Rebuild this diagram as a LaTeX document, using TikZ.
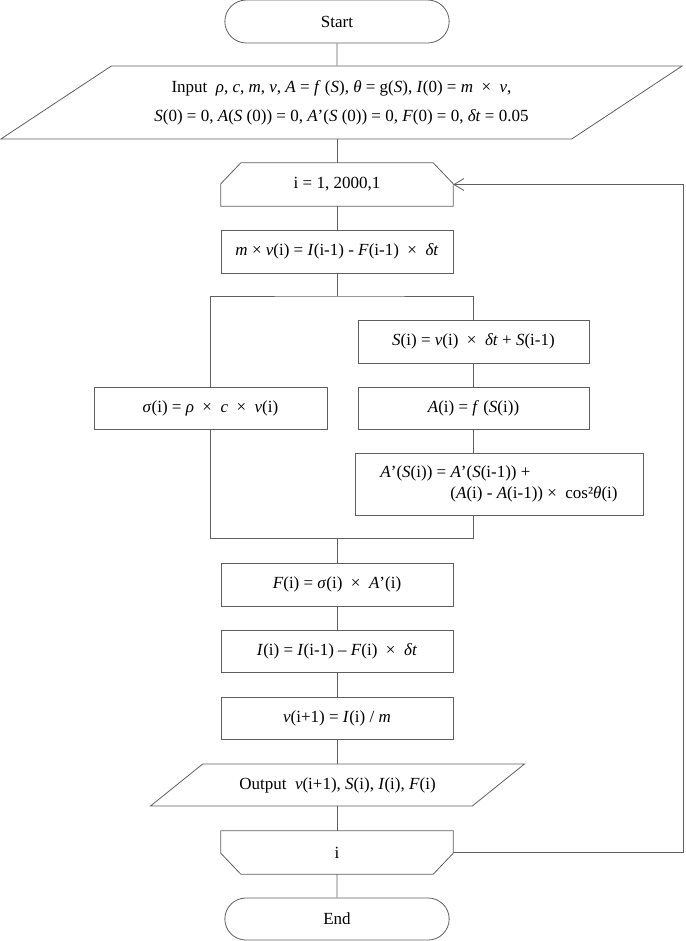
\documentclass[tikz,border=0pt]{standalone}
\usepackage{fontspec}
\setmainfont{Liberation Serif}
\usepackage{tikz}
\usetikzlibrary{shapes.geometric,shapes.misc,arrows.meta}
\definecolor{linegray}{RGB}{95,95,95}
\newcommand{\vi}[1]{\textit{#1}}
\tikzstyle{terminal} = [draw=linegray, line width=0.8pt, rounded rectangle,
    minimum width=231pt, minimum height=43pt]
\tikzstyle{procbox} = [draw=linegray, line width=0.8pt, rectangle,
    minimum width=232pt, minimum height=43pt, inner sep=2pt]
\tikzstyle{iobox} = [draw=linegray, line width=0.8pt, trapezium,
    trapezium left angle=29.3, trapezium right angle=150.7, trapezium stretches=true]
\tikzstyle{loopbox} = [rectangle, minimum width=232pt, minimum height=43pt]
\tikzstyle{flow} = [draw=linegray, line width=0.8pt]
\begin{document}
\begin{tikzpicture}[x=1pt, y=-1pt, every node/.style={font=\fontsize{17}{21}\selectfont}]
\useasboundingbox (0,0) rectangle (685,941);
\node[terminal] (start) at (337,21.5) {Start};
\node[iobox, minimum width=683pt, minimum height=73pt, align=center] (input) at (341.5,102.5)
    {Input\ \ \vi{ρ}, \vi{c}, \vi{m}, \vi{v}, \vi{A} = \vi{f} (\vi{S}), \vi{θ} = g(\vi{S}), \vi{I}(0) = \vi{m}\ \ ×\ \ \vi{v},\\[8pt]
     \vi{S}(0) = 0, \vi{A}(\vi{S} (0)) = 0, \vi{A}’(\vi{S} (0)) = 0, \vi{F}(0) = 0, \vi{δt} = 0.05};
\node[loopbox] (loop) at (337,184.5) {i = 1, 2000,1};
\draw[flow] (loop.south west) -- ([yshift=-21pt]loop.north west) -- ([xshift=20pt]loop.north west)
    -- ([xshift=-20pt]loop.north east) -- ([yshift=-21pt]loop.north east) -- (loop.south east) -- cycle;
\node[procbox] (mv) at (337,251.5) {\vi{m} × \vi{v}(i) = \vi{I}(i-1) - \vi{F}(i-1)\ \ ×\ \ \vi{δt}};
\node[procbox, minimum width=233pt, minimum height=42pt] (sigma) at (210.5,408)
    {\vi{σ}(i) = \vi{ρ}\ \ ×\ \ \vi{c}\ \ ×\ \ \vi{v}(i)};
\node[procbox, minimum width=231pt] (S) at (473.5,341.5)
    {\vi{S}(i) = \vi{v}(i)\ \ ×\ \ \vi{δt} + \vi{S}(i-1)};
\node[procbox, minimum width=231pt, minimum height=42pt] (A) at (473.5,408)
    {\vi{A}(i) = \vi{f} (\vi{S}(i))};
\node[procbox, minimum width=288pt, minimum height=62pt, align=left] (Ad) at (499,484)
    {\vi{A}’(\vi{S}(i)) = \vi{A}’(\vi{S}(i-1)) +\\
     \hspace*{70pt}(\vi{A}(i) - \vi{A}(i-1)) ×\ \ cos²\vi{θ}(i)};
\node[procbox] (F) at (337,584.5) {\vi{F}(i) = \vi{σ}(i)\ \ ×\ \ \vi{A}’(i)};
\node[procbox, minimum height=42pt] (I) at (337,651.5) {\vi{I}(i) = \vi{I}(i-1) – \vi{F}(i)\ \ ×\ \ \vi{δt}};
\node[procbox, minimum height=42pt] (v) at (337,718) {\vi{v}(i+1) = \vi{I}(i) / \vi{m}};
\node[iobox, minimum width=375pt, minimum height=42pt] (output) at (337.5,785)
    {Output\ \ \vi{v}(i+1), \vi{S}(i), \vi{I}(i), \vi{F}(i)};
\node[loopbox] (loopend) at (337,852.5) {i};
\draw[flow] (loopend.north west) -- ([yshift=21pt]loopend.south west) -- ([xshift=20pt]loopend.south west)
    -- ([xshift=-20pt]loopend.south east) -- ([yshift=21pt]loopend.south east) -- (loopend.north east) -- cycle;
\node[terminal, minimum height=42pt] (end) at (337,919) {End};
% connectors
\coordinate (fork) at (337,296);
\coordinate (merge) at (337,538);
\coordinate (back) at (683,852.5);
\draw[flow] (start) -- (start |- input.north);
\draw[flow] (start |- input.south) -- (loop);
\draw[flow] (loop) -- (mv);
\draw[flow] (mv) -- (fork);
\draw[flow] (sigma) |- (fork) -| (S);
\draw[flow] (S) -- (A);
\draw[flow] (A) -- (A |- Ad.north);
\draw[flow] (sigma) -- (sigma |- merge) -- (A |- merge) -- (A |- Ad.south);
\draw[flow] (merge) -- (F);
\draw[flow] (F) -- (I);
\draw[flow] (I) -- (v);
\draw[flow] (v) -- (v |- output.north);
\draw[flow] (v |- output.south) -- (loopend);
\draw[flow] (loopend) -- (end);
\draw[flow, -{Straight Barb[length=10pt,width=12pt]}] (loopend.east) -- (back) |- (loop.east);
\end{tikzpicture}
\end{document}
